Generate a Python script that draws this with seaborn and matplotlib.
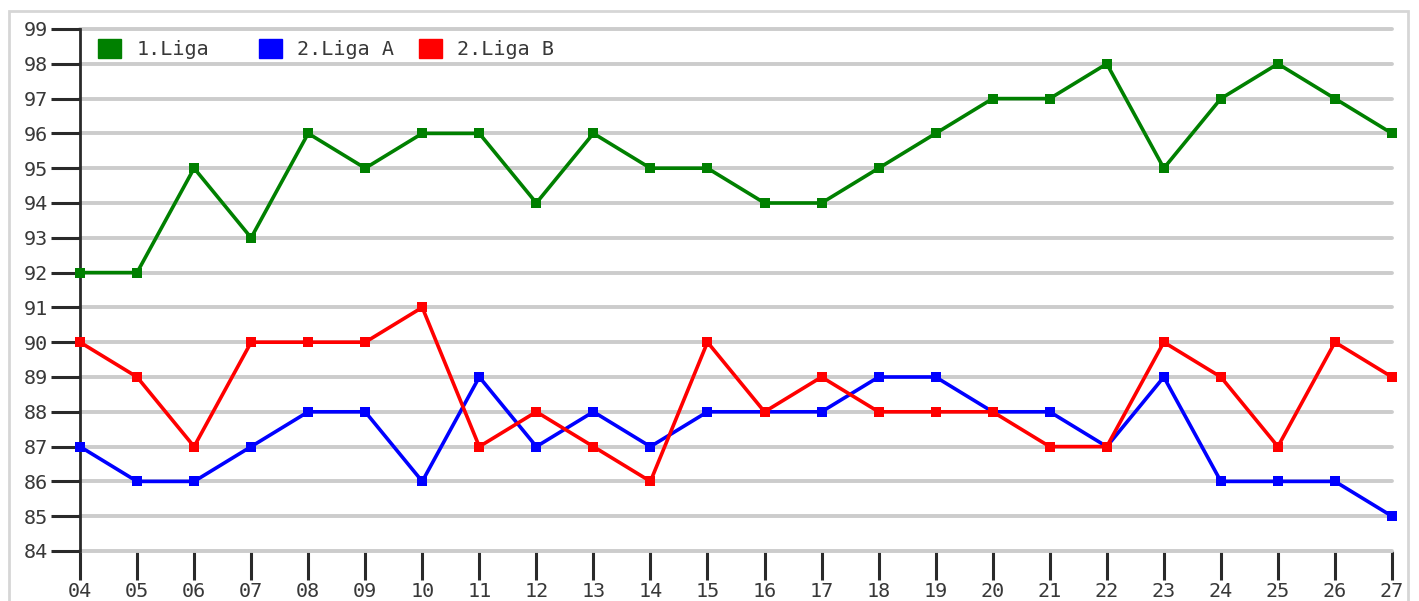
import matplotlib
matplotlib.use("Agg")
import matplotlib.pyplot as plt
import matplotlib.patches as mpatches
import seaborn as sns
import pandas as pd

seasons = ["04", "05", "06", "07", "08", "09", "10", "11", "12", "13", "14", "15",
           "16", "17", "18", "19", "20", "21", "22", "23", "24", "25", "26", "27"]
liga1 = [92, 92, 95, 93, 96, 95, 96, 96, 94, 96, 95, 95, 94, 94, 95, 96, 97, 97, 98, 95, 97, 98, 97, 96]
liga2a = [87, 86, 86, 87, 88, 88, 86, 89, 87, 88, 87, 88, 88, 88, 89, 89, 88, 88, 87, 89, 86, 86, 86, 85]
liga2b = [90, 89, 87, 90, 90, 90, 91, 87, 88, 87, 86, 90, 88, 89, 88, 88, 88, 87, 87, 90, 89, 87, 90, 89]
series_names = ["1.Liga", "2.Liga A", "2.Liga B"]
colors = ["#008000", "#0000ff", "#ff0000"]
yticks = list(range(84, 100))

rows = []
for name, vals in zip(series_names, [liga1, liga2a, liga2b]):
    for i, v in enumerate(vals):
        rows.append({"x": i, "value": v, "series": name})
df = pd.DataFrame(rows)

sns.set_style("white")
plt.rcParams["font.family"] = ["DejaVu Sans Mono", "DejaVu Sans"]

FS = 14.5
TXT = "#383838"

fig = plt.figure(figsize=(14.19, 6.01), dpi=100)
fig.patches.append(mpatches.Rectangle((9/1419, -0.1), (1408-9)/1419, 1 + 0.1 - 11/601,
                                      transform=fig.transFigure, fill=False,
                                      edgecolor="#d6d6d6", linewidth=2))
ax = fig.add_axes([80/1419, 1 - 551/601, (1392-80)/1419, (551-29)/601])

sns.lineplot(data=df, x="x", y="value", hue="series", palette=colors,
             hue_order=series_names, marker="s", markersize=7.5, markeredgewidth=0,
             linewidth=2.6, ax=ax, legend=False, clip_on=False)

ax.set_xlim(0, len(seasons) - 1)
ax.set_ylim(84, 99)
ax.set_xticks(range(len(seasons)))
ax.set_xticklabels(seasons)
ax.set_yticks(yticks)
ax.set_yticklabels([str(t) for t in yticks])
ax.set_xlabel("")
ax.set_ylabel("")
ax.yaxis.grid(True, color="#cccccc", linewidth=2.8)
for gl in ax.get_ygridlines():
    gl.set_clip_on(False)
ax.set_axisbelow(True)
for s in ["top", "right", "bottom"]:
    ax.spines[s].set_visible(False)
ax.spines["left"].set_color("#2a2a2a")
ax.spines["left"].set_linewidth(2)
ax.spines["left"].set_zorder(0.6)
ax.tick_params(axis="both", left=True, bottom=True, length=21, width=2.2,
               color="#2a2a2a", labelsize=FS, labelcolor=TXT, pad=2)
ax.tick_params(axis="x", pad=1)

# legend entries at fixed column positions
col_x = [18/1312, 179/1312, 339/1312]
legs = []
for c, n, xpos in zip(colors, series_names, col_x):
    lg = ax.legend(handles=[mpatches.Patch(color=c, label=n)], loc="upper left",
                   frameon=False, fontsize=FS, handlelength=1.15, handleheight=1.05,
                   handletextpad=0.75, borderaxespad=0, borderpad=0,
                   bbox_to_anchor=(xpos, 1 - 10/522), labelcolor=TXT)
    legs.append(lg)
for lg in legs[:-1]:
    ax.add_artist(lg)

fig.savefig("out.png", dpi=100)
